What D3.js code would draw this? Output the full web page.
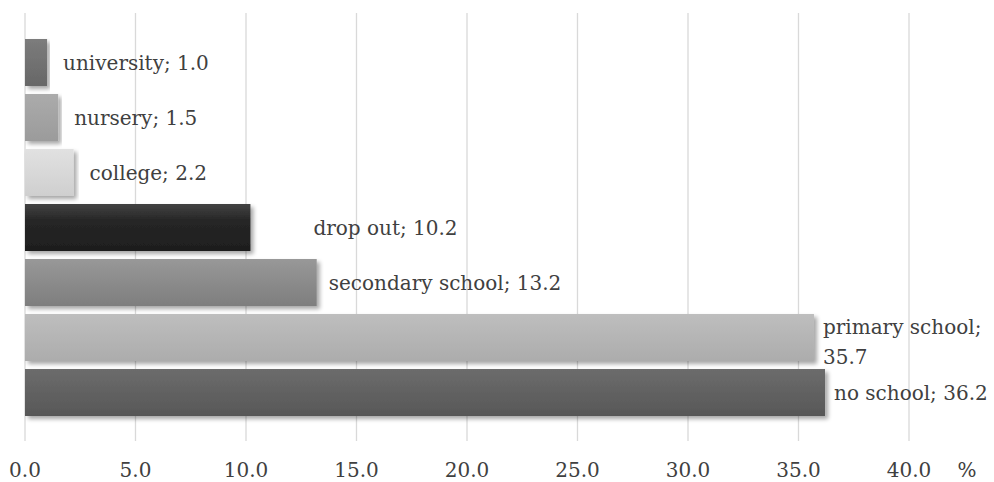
<!DOCTYPE html>
<html>
<head>
<meta charset="utf-8">
<script src="https://cdn.jsdelivr.net/npm/d3@7"></script>
<style>
  html, body { margin: 0; padding: 0; background: #fff; }
  svg { display: block; }
</style>
</head>
<body>
<svg id="chart" width="994" height="482"></svg>
<script>
// Education level shares (%), listed bottom-to-top as drawn
const categories = ["no school", "primary school", "secondary school", "drop out", "college", "nursery", "university"];
const values = [36.2, 35.7, 13.2, 10.2, 2.2, 1.5, 1.0];
const tickValues = [0, 5, 10, 15, 20, 25, 30, 35, 40];
const unitLabel = "%";

// Per-bar fill gradients (top, bottom)
const barTop    = ["#6c6c6c", "#bebebe", "#989898", "#424242", "#e1e1e1", "#ababab", "#7c7c7c"];
const barBottom = ["#575757", "#acacac", "#7e7e7e", "#1e1e1e", "#cfcfcf", "#9b9b9b", "#676767"];
// Extra horizontal nudge of individual value labels
const labelNudge = [0, 0, 0, 47, 0, 0, 0];

const FONT = "'DejaVu Serif', 'Liberation Serif', serif";
const FS = 20;
const TXT = "#404040";

const svg = d3.select("#chart");

const x = d3.scaleLinear().domain([0, 40]).range([25, 909]);
const y = d3.scaleBand()
  .domain(categories.slice().reverse())
  .range([35, 420])
  .paddingInner(8 / 55)
  .paddingOuter(4 / 55);

const defs = svg.append("defs");
categories.forEach((c, i) => {
  const g = defs.append("linearGradient")
    .attr("id", "grad" + i)
    .attr("x1", 0).attr("y1", 0).attr("x2", 0).attr("y2", 1);
  g.append("stop").attr("offset", "0%").attr("stop-color", barTop[i]);
  g.append("stop").attr("offset", i === 3 ? "35%" : "100%").attr("stop-color", i === 3 ? "#262626" : barBottom[i]);
  if (i === 3) g.append("stop").attr("offset", "100%").attr("stop-color", barBottom[i]);
});
const shadow = defs.append("filter").attr("id", "shadow")
  .attr("x", "-5%").attr("y", "-20%").attr("width", "115%").attr("height", "160%");
shadow.append("feGaussianBlur").attr("in", "SourceAlpha").attr("stdDeviation", 2.2).attr("result", "b");
shadow.append("feOffset").attr("in", "b").attr("dx", 2.5).attr("dy", 3).attr("result", "o");
shadow.append("feComponentTransfer").attr("in", "o").attr("result", "s")
  .append("feFuncA").attr("type", "linear").attr("slope", 0.35);
const merge = shadow.append("feMerge");
merge.append("feMergeNode").attr("in", "s");
merge.append("feMergeNode").attr("in", "SourceGraphic");

// Vertical gridlines
svg.append("g")
  .selectAll("line")
  .data(tickValues)
  .join("line")
  .attr("x1", d => x(d)).attr("x2", d => x(d))
  .attr("y1", 13).attr("y2", 441)
  .attr("stroke", "#d9d9d9")
  .attr("stroke-width", 1.3);

// Bars
svg.append("g")
  .selectAll("rect")
  .data(categories)
  .join("rect")
  .attr("x", x(0))
  .attr("y", d => y(d))
  .attr("width", (d, i) => x(values[i]) - x(0))
  .attr("height", y.bandwidth())
  .attr("fill", (d, i) => `url(#grad${i})`)
  .attr("filter", "url(#shadow)");

// Value labels
const fmt = d3.format(".1f");
const labels = svg.append("g")
  .attr("font-family", FONT).attr("font-size", FS).attr("fill", TXT)
  .selectAll("text")
  .data(categories)
  .join("text")
  .attr("x", (d, i) => x(values[i]) + (values[i] > 30 ? 9 : values[i] > 12 ? 12 : 16) + labelNudge[i])
  .attr("y", d => y(d) + y.bandwidth() / 2)
  .attr("dy", "0.35em");

labels.each(function (d, i) {
  const t = d3.select(this);
  if (d === "primary school") {
    const xx = t.attr("x");
    t.attr("dy", null).attr("y", y(d) + y.bandwidth() / 2 - 4);
    t.append("tspan").attr("x", xx).text(`${d};`);
    t.append("tspan").attr("x", xx).attr("dy", 30).text(fmt(values[i]));
  } else {
    t.text(`${d}; ${fmt(values[i])}`);
  }
});

// X axis tick labels
const axisG = svg.append("g")
  .attr("font-family", FONT).attr("font-size", FS).attr("fill", TXT);
axisG.selectAll("text")
  .data(tickValues)
  .join("text")
  .attr("text-anchor", "middle")
  .attr("x", d => x(d))
  .attr("y", 477)
  .text(d => fmt(d));

axisG.append("text")
  .attr("text-anchor", "middle")
  .attr("x", 967)
  .attr("y", 477)
  .text(unitLabel);
</script>
</body>
</html>
